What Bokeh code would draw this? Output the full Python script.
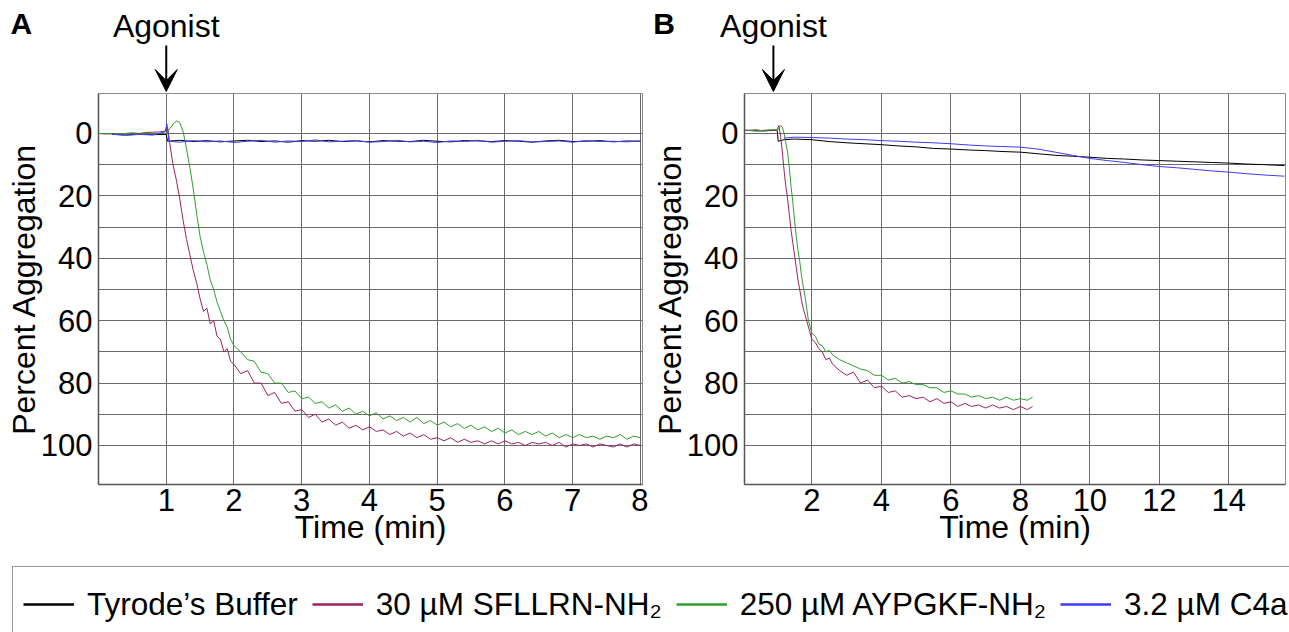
from bokeh.plotting import figure
from bokeh.layouts import column, row
from bokeh.models import Range1d, FixedTicker, Label, Arrow, VeeHead, Legend, LegendItem
from bokeh.embed import file_html
from bokeh.resources import INLINE

FONT = "Liberation Sans"

# ---------------- data ----------------
legend_labels = ["Tyrode\u2019s Buffer", "30 \u00b5M SFLLRN-NH\u2082", "250 \u00b5M AYPGKF-NH\u2082", "3.2 \u00b5M C4a"]
series_colors = ["#000000", "#9b2262", "#2e9e2e", "#3b3bff"]

y_ticks = [0, 20, 40, 60, 80, 100]
y_grid = [0, 10, 20, 30, 40, 50, 60, 70, 80, 90, 100]
x_ticks_a = [1, 2, 3, 4, 5, 6, 7, 8]
x_ticks_b = [2, 4, 6, 8, 10, 12, 14]

# Panel A: agonist traces (shared time base, min)
t_agon_a = [0.0, 0.1, 0.2, 0.3, 0.4, 0.5, 0.6, 0.7, 0.8, 0.9, 1.0,
            1.02, 1.05, 1.1, 1.15, 1.2, 1.25, 1.3, 1.35, 1.4, 1.45, 1.5, 1.55, 1.6, 1.65, 1.7, 1.75, 1.8, 1.85, 1.9, 1.95,
            2.0, 2.1, 2.2, 2.3, 2.4, 2.5, 2.6, 2.7, 2.8, 2.9, 3.0, 3.1, 3.2, 3.3, 3.4, 3.5, 3.6, 3.7, 3.8, 3.9,
            4.0, 4.1, 4.2, 4.3, 4.4, 4.5, 4.6, 4.7, 4.8, 4.9, 5.0, 5.1, 5.2, 5.3, 5.4, 5.5, 5.6, 5.7, 5.8, 5.9,
            6.0, 6.1, 6.2, 6.3, 6.4, 6.5, 6.6, 6.7, 6.8, 6.9, 7.0, 7.1, 7.2, 7.3, 7.4, 7.5, 7.6, 7.7, 7.8, 7.9, 8.0]
sfllrn_a = [0, 0.2, 0, 0.3, 0, -0.2, 0, -0.3, -0.4, -0.5, -0.8,
            -2, 3, 10, 15, 21, 28, 34, 39, 44, 48, 53, 57, 56, 61, 60, 65, 66, 70, 69, 73,
            74, 77, 76, 80, 80, 84, 83, 86.5, 86, 89, 88.5, 91, 90, 92.5, 91.5, 93.5, 92.5, 94.5, 93.5, 95,
            94, 95.5, 95, 96.5, 95.5, 97, 96, 97.5, 96.5, 98, 97.5, 98.5, 97.5, 99, 98, 99, 98.5, 99.5, 98.5, 99.5,
            98.5, 99.5, 99, 100, 99, 99.5, 99, 100, 99, 100.5, 99.5, 100, 99.5, 100.5, 99.5, 100, 100.5, 99.5, 100.5, 99.5, 100]
aypgkf_a = [0, 0, 0.2, 0, 0.1, 0, 0.2, 0, 0.1, 0, 0,
            -0.5, -1.5, -3, -4, -3.5, -0.5, 5, 11, 18, 26, 33, 38, 42, 47, 50, 54, 57, 60, 62, 66,
            68, 70, 72.5, 73, 76.5, 77, 80, 80, 83, 82.5, 85, 84.5, 86.5, 86, 88, 87, 89, 88, 90, 89,
            90.5, 89.5, 91.5, 90.5, 92, 91, 92.5, 91, 93, 92, 93.5, 92.5, 94, 93, 94.5, 93.5, 95, 94, 95.5, 94.5,
            96, 95, 96.5, 95.5, 96.5, 95.5, 97, 96, 97.5, 96.5, 97.5, 96.5, 97.5, 97, 98, 97, 97.5, 96.5, 98, 97, 97.5]

# Panel A: control traces
t_buffer_a = [0.2, 0.4, 0.6, 0.8, 1.0, 1.02,
              1.2, 1.4, 1.6, 1.8, 2.0, 2.2, 2.4, 2.6, 2.8, 3.0, 3.2, 3.4, 3.6, 3.8, 4.0, 4.2, 4.4, 4.6,
              4.8, 5.0, 5.2, 5.4, 5.6, 5.8, 6.0, 6.2, 6.4, 6.6, 6.8, 7.0, 7.2, 7.4, 7.6, 7.8, 8.0]
buffer_a = [0.3, 0.5, 0.2, 0.4, 0.3, 2.5,
            2.2, 2.6, 2.3, 2.7, 2.4, 2.2, 2.6, 2.4, 2.8, 2.3, 2.5, 2.2, 2.6, 2.4, 2.7, 2.3, 2.5, 2.6,
            2.2, 2.5, 2.7, 2.3, 2.4, 2.6, 2.3, 2.5, 2.8, 2.4, 2.2, 2.6, 2.5, 2.3, 2.7, 2.4, 2.5]
t_c4a_a = [0.2, 0.4, 0.6, 0.8, 0.98, 1.01, 1.04,
           1.2, 1.4, 1.6, 1.8, 2.0, 2.2, 2.4, 2.6, 2.8, 3.0, 3.2, 3.4, 3.6, 3.8, 4.0, 4.2, 4.4, 4.6,
           4.8, 5.0, 5.2, 5.4, 5.6, 5.8, 6.0, 6.2, 6.4, 6.6, 6.8, 7.0, 7.2, 7.4, 7.6, 7.8, 8.0]
c4a_a = [0.2, 0.6, 0.3, 0.5, -0.5, -3, 2.5,
         2.8, 2.3, 2.7, 2.4, 2.9, 2.5, 2.2, 2.8, 2.4, 2.6, 2.1, 2.7, 2.5, 2.3, 2.8, 2.6, 2.2, 2.7,
         2.5, 2.9, 2.4, 2.6, 2.2, 2.8, 2.5, 2.3, 2.7, 2.6, 2.4, 2.8, 2.3, 2.6, 2.5, 2.7, 2.4]

# Panel B: agonist traces (shared time base, min)
t_agon_b = [0.05, 0.2, 0.4, 0.6, 0.8, 1.0,
            1.05, 1.1, 1.15, 1.2, 1.25, 1.3, 1.35, 1.4, 1.45, 1.5, 1.55, 1.6, 1.65, 1.7, 1.75, 1.8,
            1.9, 2.0, 2.1, 2.2, 2.3, 2.4, 2.5, 2.6,
            2.8, 3.0, 3.2, 3.4, 3.6, 3.8, 4.0, 4.2, 4.4, 4.6, 4.8, 5.0, 5.2, 5.4, 5.6, 5.8, 6.0, 6.2, 6.4, 6.6,
            6.8, 7.0, 7.2, 7.4, 7.6, 7.8, 8.0, 8.2, 8.35]
sfllrn_b = [-1, -1, -1.2, -0.8, -1, -1.2,
            -2.5, 1, 6, 12, 17, 21, 26, 31, 35, 39, 43, 47, 50, 53.5, 56, 58,
            62, 66, 67, 69, 70, 72.5, 72, 74,
            76, 77.5, 76.5, 80, 79, 81.5, 81, 83, 82.5, 84.5, 84, 85, 84.5, 86, 85, 86.5, 86, 87.5, 86.5, 87.5,
            87, 88, 87, 88, 87.5, 88.5, 87.5, 88.5, 87.5]
aypgkf_b = [-1, -1, -0.8, -1, -1.2, -1,
            -1.5, -2.5, -2, 0, 3, 6, 11, 17, 22, 28, 33, 37.5, 41, 45.5, 49, 52,
            60, 64, 65, 67.5, 68, 70, 69.5, 71,
            72.5, 73.5, 74.5, 75.5, 76, 77.5, 77.5, 79, 78.5, 80, 79.5, 80.5, 80.5, 81.5, 81.5, 83, 82.5, 83.5, 83.5, 84.5,
            84, 85, 84.5, 85.5, 84.5, 85.5, 85, 85.5, 84.5]

# Panel B: control traces
t_buffer_b = [0.05, 0.5, 1.0, 1.03, 1.2, 1.5,
              2.0, 2.5, 3.0, 3.5, 4.0, 4.5, 5.0, 5.5, 6.0, 6.5, 7.0, 7.5, 8.0, 8.5,
              9.0, 9.5, 10.0, 10.5, 11.0, 11.5, 12.0, 12.5, 13.0, 13.5, 14.0, 14.5, 15.0, 15.6]
buffer_b = [-1, -0.8, -1, 2.5, 2, 1.8,
            2.0, 2.6, 3.0, 3.3, 3.6, 4.0, 4.3, 4.8, 5.0, 5.3, 5.5, 5.8, 6.0, 6.5,
            7.0, 7.3, 7.6, 8.0, 8.2, 8.5, 8.7, 8.9, 9.1, 9.3, 9.5, 9.8, 10.0, 10.3]
t_c4a_b = [1.2, 1.5,
           2.0, 2.5, 3.0, 3.5, 4.0, 4.5, 5.0, 5.5, 6.0, 6.5, 7.0, 7.5, 8.0, 8.5,
           9.0, 9.5, 10.0, 10.5, 11.0, 11.5, 12.0, 12.5, 13.0, 13.5, 14.0, 14.5, 15.0, 15.6]
c4a_b = [1.5, 1.2,
         1.3, 1.5, 1.8, 2.0, 2.3, 2.5, 2.8, 3.0, 3.3, 3.7, 4.0, 4.2, 4.4, 5.0,
         6.0, 7.0, 8.0, 8.7, 9.3, 10.0, 10.6, 11.0, 11.5, 12.0, 12.4, 12.9, 13.3, 13.7]

agonist_time = 1.0

# ---------------- layout constants ----------------
HEAD_H = 93      # header strip (letters, "Agonist" arrow)
CHART_H = 462    # chart figure height (frame + x axis)
BOTTOM = 71      # space for x axis below the frame
LEG_H = 77


def style_axes(p):
    for ax in (p.xaxis[0], p.yaxis[0]):
        ax.axis_line_color = "#555555"
        ax.axis_line_width = 1.5
        ax.major_tick_out = 0
        ax.major_tick_in = 0
        ax.minor_tick_out = 0
        ax.minor_tick_in = 0
        ax.major_label_text_font = FONT
        ax.major_label_text_font_size = "31px"
        ax.major_label_text_color = "#000000"
        ax.axis_label_text_font = FONT
        ax.axis_label_text_font_size = "32px"
        ax.axis_label_text_font_style = "normal"
        ax.axis_label_text_color = "#000000"
    p.xaxis.major_label_standoff = 4
    p.xaxis.axis_label_standoff = -5
    p.yaxis.major_label_standoff = 6
    p.yaxis.axis_label_standoff = -4


def make_panel(letter, letter_x, xr, x_ticks, traces, width, border_left, border_right):
    # header strip sharing the chart's time scale
    frame_w = width - border_left - border_right
    scale = frame_w / (xr[1] - xr[0])
    h = figure(width=width, height=HEAD_H, title=None,
               x_range=Range1d(xr[0] - border_left / scale, xr[1] + border_right / scale),
               y_range=Range1d(HEAD_H, 0),
               output_backend="svg", toolbar_location=None,
               x_axis_location=None, y_axis_location=None,
               min_border_left=0, min_border_right=0, min_border_top=0, min_border_bottom=0)
    h.outline_line_color = None
    h.xgrid.visible = False
    h.ygrid.visible = False
    h.add_layout(Label(x=agonist_time, y=25, text="Agonist", text_align="center",
                       text_baseline="middle", text_font=FONT, text_font_size="32px",
                       text_color="#000000"))
    h.add_layout(Arrow(end=VeeHead(size=22, fill_color="#000000", line_color="#000000", line_width=1),
                       x_start=agonist_time, y_start=45, x_end=agonist_time, y_end=91,
                       line_color="#000000", line_width=2))
    h.add_layout(Label(x=letter_x, y=22.5, text=letter, text_align="left", text_baseline="middle",
                       text_font=FONT, text_font_size="30px", text_font_style="bold",
                       text_color="#000000"))

    p = figure(width=width, height=CHART_H, title=None,
               x_range=Range1d(*xr), y_range=Range1d(112.5, -12.8),
               output_backend="svg", toolbar_location=None,
               min_border_left=border_left, min_border_right=border_right,
               min_border_top=0, min_border_bottom=BOTTOM,
               x_axis_label="Time (min)", y_axis_label="Percent Aggregation")
    p.outline_line_color = "#8c8c8c"
    p.outline_line_width = 1
    style_axes(p)
    p.xaxis.ticker = FixedTicker(ticks=x_ticks)
    p.yaxis.ticker = FixedTicker(ticks=y_ticks)
    p.xgrid.ticker = FixedTicker(ticks=x_ticks)
    p.ygrid.ticker = FixedTicker(ticks=y_grid)
    for g in (p.xgrid[0], p.ygrid[0]):
        g.grid_line_color = "#6a6a6a"
        g.grid_line_width = 1
    for i in range(4):
        t, v = traces[i]
        p.line(t, v, line_color=series_colors[i], line_width=1)
    return h, p


hA, pA = make_panel("A", -1.30, (0.0, 8.03), x_ticks_a,
                    [(t_buffer_a, buffer_a), (t_agon_a, sfllrn_a), (t_agon_a, aypgkf_a), (t_c4a_a, c4a_a)],
                    width=648, border_left=98, border_right=6)
hB, pB = make_panel("B", -2.43, (0.06, 15.63), x_ticks_b,
                    [(t_buffer_b, buffer_b), (t_agon_b, sfllrn_b), (t_agon_b, aypgkf_b), (t_c4a_b, c4a_b)],
                    width=641, border_left=92, border_right=4)

# ---------------- legend strip ----------------
pL = figure(width=1289, height=LEG_H, title=None, x_range=Range1d(-3, -2), y_range=Range1d(-3, -2),
            output_backend="svg", toolbar_location=None,
            x_axis_location=None, y_axis_location=None,
            min_border_left=12, min_border_top=11, min_border_right=0, min_border_bottom=0)
pL.outline_line_color = None
pL.xgrid.visible = False
pL.ygrid.visible = False
legend_traces = [(t_buffer_a, buffer_a), (t_agon_a, sfllrn_a), (t_agon_a, aypgkf_a), (t_c4a_a, c4a_a)]
items = []
for lab, col, (t, v) in zip(legend_labels, series_colors, legend_traces):
    r = pL.line(t, v, line_color=col, line_width=2.5)
    items.append(LegendItem(label=lab, renderers=[r]))
leg = Legend(items=items, orientation="horizontal", location="top_left", margin=0,
             padding=10, spacing=14, glyph_width=51, glyph_height=54, label_height=54,
             label_standoff=13, label_text_font=FONT, label_text_font_size="31.5px",
             label_text_color="#000000", border_line_color="#333333", border_line_width=1,
             background_fill_alpha=0)
pL.add_layout(leg)

layout = column(row(hA, hB), row(pA, pB), pL)
open("out.html", "w").write(file_html(layout, INLINE))
